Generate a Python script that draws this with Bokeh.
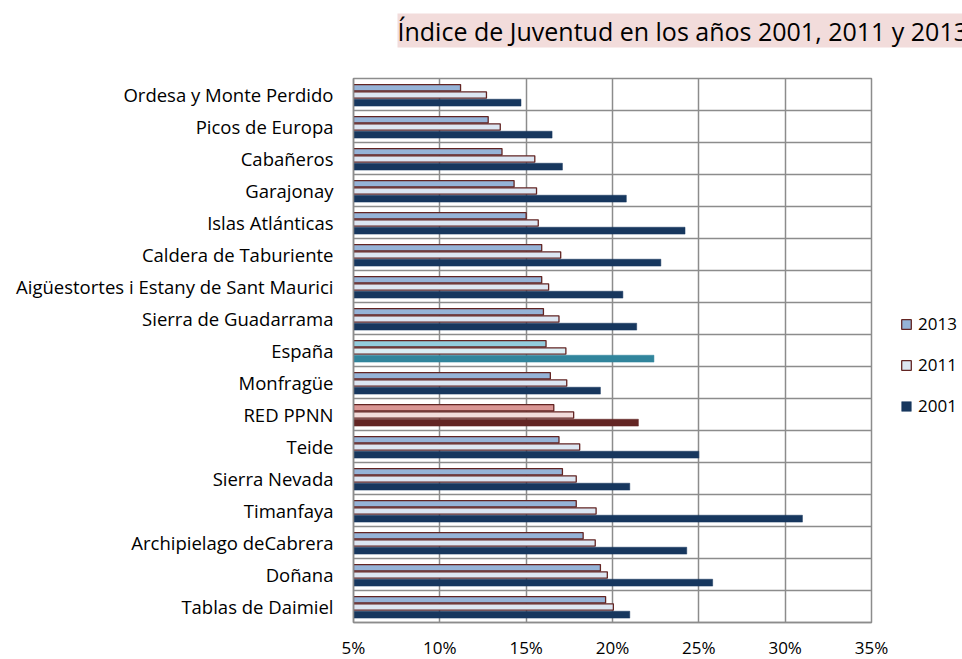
from bokeh.plotting import figure
from bokeh.models import (ColumnDataSource, FactorRange, Span, Legend, Title,
                          LegendItem, FixedTicker, PrintfTickFormatter)
from bokeh.transform import dodge
from bokeh.embed import file_html
from bokeh.resources import INLINE

# ---- data (top to bottom as shown) ----
parks = ["Ordesa y Monte Perdido", "Picos de Europa", "Cabañeros", "Garajonay",
         "Islas Atlánticas", "Caldera de Taburiente",
         "Aigüestortes i Estany de Sant Maurici", "Sierra de Guadarrama",
         "España", "Monfragüe", "RED PPNN", "Teide", "Sierra Nevada",
         "Timanfaya", "Archipielago deCabrera", "Doñana", "Tablas de Daimiel"]
v2013 = [11.2, 12.8, 13.6, 14.3, 15.0, 15.9, 15.9, 16.0, 16.15, 16.4, 16.6,
         16.9, 17.1, 17.9, 18.3, 19.3, 19.6]
v2011 = [12.7, 13.5, 15.5, 15.6, 15.7, 17.0, 16.3, 16.9, 17.3, 17.35, 17.75,
         18.1, 17.9, 19.05, 19.0, 19.7, 20.05]
v2001 = [14.7, 16.5, 17.1, 20.8, 24.2, 22.8, 20.6, 21.4, 22.4, 19.3, 21.5,
         25.0, 21.0, 31.0, 24.3, 25.8, 21.0]
years = ["2013", "2011", "2001"]
x_ticks = [5, 10, 15, 20, 25, 30, 35]
title_text = "Índice de Juventud en los años 2001, 2011 y 2013"

# colours per category (special rows: España, RED PPNN)
c13, c11, c01 = [], [], []
for name in parks:
    if name == "España":
        c13.append("#93cddd"); c11.append("#dbeef4"); c01.append("#31859c")
    elif name == "RED PPNN":
        c13.append("#d99694"); c11.append("#f2dcdb"); c01.append("#632523")
    else:
        c13.append("#95b3d7"); c11.append("#dce6f2"); c01.append("#17375e")

src = ColumnDataSource(dict(park=parks, v2013=v2013, v2011=v2011, v2001=v2001,
                            c13=c13, c11=c11, c01=c01))

FONT = "Open Sans"
GRID = "#8c8c8c"

p = figure(output_backend="svg", toolbar_location=None,
           x_range=(5, 35), y_range=FactorRange(*list(reversed(parks))),
           frame_width=518, frame_height=544,
           min_border_left=353, min_border_top=78, min_border_right=90,
           min_border_bottom=37)

p.background_fill_color = "white"
p.border_fill_color = "white"
p.outline_line_color = GRID
p.outline_line_width = 1.5

# vertical grid
p.xgrid.ticker = FixedTicker(ticks=x_ticks)
p.xgrid.grid_line_color = GRID
p.xgrid.grid_line_width = 1.5
p.ygrid.visible = False
# horizontal lines at category boundaries
for k in range(1, len(parks)):
    p.add_layout(Span(location=k, dimension="width", line_color=GRID,
                      line_width=1.5, level="underlay"))

r13 = p.hbar(y=dodge("park", 0.21, range=p.y_range), right="v2013", left=5,
             height=0.2, source=src, fill_color="c13", line_color="#632523",
             line_width=1.3)
r11 = p.hbar(y=dodge("park", -0.015, range=p.y_range), right="v2011", left=5,
             height=0.2, source=src, fill_color="c11", line_color="#632523",
             line_width=1.3)
r01 = p.hbar(y=dodge("park", -0.255, range=p.y_range), right="v2001", left=5,
             height=0.215, source=src, fill_color="c01", line_color="c01",
             line_width=0.5)

# axes
p.xaxis.ticker = FixedTicker(ticks=x_ticks)
p.xaxis.formatter = PrintfTickFormatter(format="%d%%")
p.xaxis.major_tick_out = 0
p.xaxis.major_tick_in = 0
p.xaxis.minor_tick_out = 0
p.xaxis.axis_line_color = GRID
p.xaxis.axis_line_width = 1.5
p.xaxis.major_label_standoff = 13
p.xaxis.major_label_text_font = FONT
p.xaxis.major_label_text_font_size = "17px"
p.xaxis.major_label_text_color = "#000000"

p.yaxis.major_tick_out = 0
p.yaxis.major_tick_in = 0
p.yaxis.axis_line_color = GRID
p.yaxis.axis_line_width = 1.5
p.yaxis.major_label_standoff = 20
p.yaxis.major_label_text_font = FONT
p.yaxis.major_label_text_font_size = "18.5px"
p.yaxis.major_label_text_color = "#000000"

# legend (right side panel)
legend = Legend(items=[LegendItem(label=years[0], renderers=[r13], index=0),
                       LegendItem(label=years[1], renderers=[r11], index=0),
                       LegendItem(label=years[2], renderers=[r01], index=0)],
                location=(29, 205), orientation="vertical",
                glyph_width=12, glyph_height=12, label_standoff=6,
                spacing=18, padding=0, margin=0, label_height=20,
                border_line_color=None, background_fill_alpha=0,
                label_text_font=FONT, label_text_font_size="17px",
                label_text_color="#000000")
p.add_layout(legend, "right")

# spacer between frame and title box
p.add_layout(Title(text=" ", text_font_size="1px", standoff=28), "above")

# title box
p.title.text = title_text
p.title.align = "left"
p.title.vertical_align = "bottom"
p.title.offset = 44
p.title.standoff = 0
p.title.text_font = FONT
p.title.text_font_size = "25px"
p.title.text_font_style = "normal"
p.title.text_color = "#000000"
p.title.background_fill_color = "#f2dcdb"
p.title.padding = 0

open("out.html", "w").write(file_html(p, INLINE))
